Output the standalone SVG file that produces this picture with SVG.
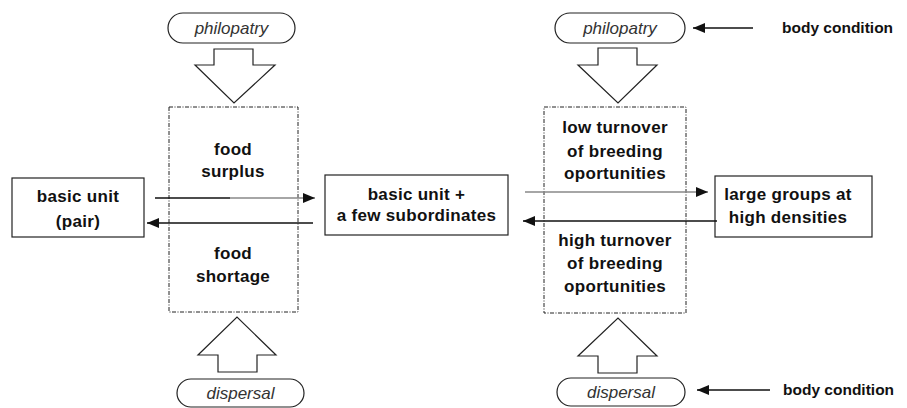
<svg xmlns="http://www.w3.org/2000/svg" width="907" height="408" viewBox="0 0 907 408">
<style>
.box{fill:#fff;stroke:#222;stroke-width:1.2}
.dash{fill:none;stroke:#222;stroke-width:1;stroke-dasharray:4 1.5 1 1.5}
.pill{fill:#fff;stroke:#222;stroke-width:1.2}
.big{fill:#fff;stroke:#222;stroke-width:1.2;stroke-linejoin:miter}
.t{font-family:"Liberation Sans",Arial,sans-serif;font-weight:bold;font-size:17px;letter-spacing:0.3px;fill:#111;text-anchor:middle}
.i{font-family:"Liberation Sans",Arial,sans-serif;font-style:italic;font-size:17px;fill:#333;text-anchor:middle}
.bc{font-family:"Liberation Sans",Arial,sans-serif;font-weight:bold;font-size:15.5px;fill:#111}
.ln{stroke:#111;stroke-width:1.3;fill:none}
.gl{stroke:#888;stroke-width:1.3;fill:none}
</style>
<defs>
<marker id="ah" viewBox="0 0 12 10" refX="12" refY="5" markerWidth="12" markerHeight="10" markerUnits="userSpaceOnUse" orient="auto">
<path d="M0,0 L12,5 L0,10 Z" fill="#111"/>
</marker>
</defs>

<g id="philopatry-left">
<rect class="pill" x="168" y="13" width="127" height="30" rx="15"/>
<text class="i" x="231.5" y="34">philopatry</text>
</g>
<g id="arrow-down-left">
<path class="big" d="M214,49 H253 V65 H275 L234,103 L195,65 H214 Z"/>
</g>
<g id="food-box">
<rect class="dash" x="169" y="107" width="129" height="205"/>
<text class="t" x="233" y="155">food</text>
<text class="t" x="233" y="177">surplus</text>
<text class="t" x="233" y="259">food</text>
<text class="t" x="233" y="282">shortage</text>
</g>
<g id="arrow-up-left">
<path class="big" d="M218,372 H257 V355 H276 L237,317 L198,355 H218 Z"/>
</g>
<g id="dispersal-left">
<rect class="pill" x="177" y="379" width="127" height="28" rx="14"/>
<text class="i" x="240.5" y="399">dispersal</text>
</g>

<g id="basic-unit-pair">
<rect class="box" x="12" y="178" width="132" height="59"/>
<text class="t" x="78" y="202">basic unit</text>
<text class="t" x="78" y="227">(pair)</text>
</g>
<g id="basic-unit-sub">
<rect class="box" x="325" y="175" width="183" height="60"/>
<text class="t" x="416.5" y="200">basic unit +</text>
<text class="t" x="416.5" y="221">a few subordinates</text>
</g>
<g id="large-groups">
<rect class="box" x="715" y="176" width="157" height="61"/>
<text class="t" x="788" y="200">large groups at</text>
<text class="t" x="788" y="223">high densities</text>
</g>

<g id="philopatry-right">
<rect class="pill" x="555" y="13" width="130" height="30" rx="15"/>
<text class="i" x="620" y="34">philopatry</text>
</g>
<g id="arrow-down-right">
<path class="big" d="M598,48 H637 V65 H657 L618,103 L578,65 H598 Z"/>
</g>
<g id="turnover-box">
<rect class="dash" x="544" y="107" width="142" height="206"/>
<text class="t" x="615" y="133">low turnover</text>
<text class="t" x="615" y="157">of breeding</text>
<text class="t" x="615" y="179">oportunities</text>
<text class="t" x="615" y="246">high turnover</text>
<text class="t" x="615" y="269">of breeding</text>
<text class="t" x="615" y="292">oportunities</text>
</g>
<g id="arrow-up-right">
<path class="big" d="M598,373 H637 V356 H657 L618,318 L578,356 H598 Z"/>
</g>
<g id="dispersal-right">
<rect class="pill" x="557" y="378" width="128" height="28" rx="14"/>
<text class="i" x="621" y="398">dispersal</text>
</g>

<g id="body-condition-top">
<text class="bc" x="782" y="33">body condition</text>
</g>
<g id="body-condition-bottom">
<text class="bc" x="783" y="395">body condition</text>
</g>

<g id="connectors">
<line class="ln" x1="155" y1="198" x2="230" y2="198"/>
<line class="gl" x1="230" y1="198" x2="315" y2="198" marker-end="url(#ah)"/>
<line class="ln" x1="313" y1="223" x2="147" y2="223" marker-end="url(#ah)"/>
<line class="gl" x1="525" y1="192" x2="708" y2="192" marker-end="url(#ah)"/>
<line class="ln" x1="717" y1="221" x2="523" y2="221" marker-end="url(#ah)"/>
<line class="ln" x1="753" y1="28" x2="693" y2="28" marker-end="url(#ah)"/>
<line class="ln" x1="770" y1="390" x2="697" y2="390" marker-end="url(#ah)"/>
</g>
</svg>
